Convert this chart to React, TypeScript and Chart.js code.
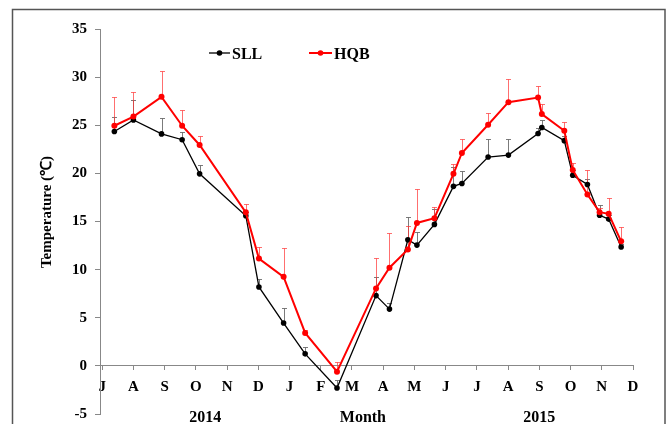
import React, { useEffect, useRef } from "react";
import { Chart, registerables } from "chart.js";

Chart.register(...registerables);

// Month tick labels (Jul 2014 .. Dec 2015)
const monthLabels = ["J", "A", "S", "O", "N", "D", "J", "F", "M", "A", "M", "J", "J", "A", "S", "O", "N", "D"];

// Sampling dates expressed as month index from 1 Jul 2014
const sampleMonths = [0.39, 1.0, 1.9, 2.56, 3.12, 4.6, 5.02, 5.81, 6.5, 7.52, 8.77, 9.2, 9.79, 10.08, 10.64, 11.25, 11.52, 12.36, 13.01, 13.96, 14.08, 14.8, 15.07, 15.54, 15.93, 16.22, 16.62];

const sllMean = [24.35, 25.55, 24.1, 23.5, 19.95, 15.6, 8.2, 4.45, 1.25, -2.3, 7.3, 5.9, 13.1, 12.55, 14.7, 18.65, 18.95, 21.7, 21.9, 24.15, 24.77, 23.4, 19.8, 18.85, 15.65, 15.25, 12.35];
const sllErr = [1.5, 2.1, 1.65, 0.75, 0.9, 0.4, 0.8, 1.6, 0.7, 0.85, 1.9, 0.65, 2.4, 1.35, 1.6, 2.0, 1.3, 1.9, 1.65, 0.6, 0.76, 0.5, 0.6, 0.6, 1.1, 0.4, 0.3];

const hqbMean = [24.95, 25.9, 27.95, 24.95, 22.95, 15.95, 11.15, 9.25, 3.42, -0.6, 8.05, 10.2, 12.1, 14.85, 15.35, 19.95, 22.12, 25.05, 27.4, 27.88, 26.16, 24.43, 20.36, 17.8, 15.97, 15.8, 12.94];
const hqbErr = [3.0, 2.55, 2.7, 1.6, 0.96, 0.86, 1.2, 3.0, 0.3, 0.96, 3.17, 3.56, 2.4, 3.55, 1.2, 1.0, 1.4, 1.2, 2.4, 1.2, 1.0, 0.86, 0.7, 2.5, 0.4, 1.66, 1.5];

// Labels under the month axis and where along the axis they are centred
const bottomTexts = ["2014", "Month", "2015"];
const bottomTextMonths = [3.3, 8.35, 14.0];

const seriesNames = ["SLL", "HQB"];
const yTitle = "Temperature (℃)";

const SERIF = "'Liberation Serif', 'Times New Roman', serif";

const errorBars = {
  id: "errorBars",
  beforeDatasetsDraw(chart: any) {
    const { ctx } = chart;
    const xs = chart.scales.x;
    const ys = chart.scales.y;
    ctx.save();
    ctx.lineWidth = 1;
    chart.data.datasets.forEach((ds: any) => {
      ctx.strokeStyle = ds.errColor;
      ds.data.forEach((p: any, i: number) => {
        const e = ds.errors[i];
        const px = Math.round(xs.getPixelForValue(p.x)) + 0.5;
        const py = ys.getPixelForValue(p.y);
        const pt = Math.round(ys.getPixelForValue(p.y + e)) + 0.5;
        ctx.beginPath();
        ctx.moveTo(px, py);
        ctx.lineTo(px, pt);
        ctx.moveTo(px - 2.5, pt);
        ctx.lineTo(px + 2.5, pt);
        ctx.stroke();
      });
    });
    ctx.restore();
  },
};

const decorations = {
  id: "decorations",
  afterDraw(chart: any) {
    const { ctx } = chart;
    const xs = chart.scales.x;
    ctx.save();
    // frame
    ctx.strokeStyle = "#555";
    ctx.lineWidth = 1.5;
    ctx.strokeRect(12.5, 9.5, 652.5, 430);

    // y title
    ctx.save();
    ctx.translate(47, 212);
    ctx.rotate(-Math.PI / 2);
    ctx.font = `bold 15px ${SERIF}`;
    ctx.fillStyle = "#000";
    ctx.textAlign = "center";
    ctx.textBaseline = "middle";
    ctx.fillText(yTitle, 0, 0);
    ctx.restore();

    // legend
    const items = [
      { name: seriesNames[0], color: "#000", x0: 209, x1: 230, w: 1.3 },
      { name: seriesNames[1], color: "#ff0000", x0: 309, x1: 332, w: 2 },
    ];
    ctx.font = `bold 16px ${SERIF}`;
    ctx.textAlign = "left";
    ctx.textBaseline = "alphabetic";
    items.forEach((it) => {
      ctx.strokeStyle = it.color;
      ctx.lineWidth = it.w;
      ctx.beginPath();
      ctx.moveTo(it.x0, 53);
      ctx.lineTo(it.x1, 53);
      ctx.stroke();
      ctx.fillStyle = it.color;
      ctx.beginPath();
      ctx.arc((it.x0 + it.x1) / 2, 53, 2.8, 0, Math.PI * 2);
      ctx.fill();
      ctx.fillStyle = "#000";
      ctx.fillText(it.name, it.x1 + 2, 59);
    });

    // year / month labels
    ctx.textAlign = "center";
    ctx.fillStyle = "#000";
    bottomTexts.forEach((t, i) => {
      ctx.fillText(t, xs.getPixelForValue(bottomTextMonths[i]), 422);
    });
    ctx.restore();
  },
};

export default function App() {
  const ref = useRef<HTMLCanvasElement>(null);
  useEffect(() => {
    const chart = new Chart(ref.current as HTMLCanvasElement, {
      type: "line",
      data: {
        datasets: [
          {
            label: seriesNames[0],
            data: sampleMonths.map((m, i) => ({ x: m, y: sllMean[i] })),
            borderColor: "#000",
            backgroundColor: "#000",
            borderWidth: 1.3,
            pointRadius: 2.8,
            pointBorderWidth: 0,
            pointBackgroundColor: "#000",
            order: 1,
            errors: sllErr,
            errColor: "rgba(100,100,100,0.85)",
          } as any,
          {
            label: seriesNames[1],
            data: sampleMonths.map((m, i) => ({ x: m, y: hqbMean[i] })),
            borderColor: "#ff0000",
            backgroundColor: "#ff0000",
            borderWidth: 2,
            pointRadius: 3,
            pointBorderWidth: 0,
            pointBackgroundColor: "#ff0000",
            order: 0,
            errors: hqbErr,
            errColor: "rgba(255,50,50,0.7)",
          } as any,
        ],
      },
      options: {
        animation: false,
        responsive: false,
        layout: { padding: { top: 29, right: 34, bottom: 10, left: 0 } },
        plugins: { legend: { display: false }, tooltip: { enabled: false } },
        scales: {
          x: {
            type: "linear",
            position: { y: 0 } as any,
            min: -0.07,
            max: 17,
            afterBuildTicks: (s: any) => {
              s.ticks = monthLabels.map((_, i) => ({ value: i }));
            },
            ticks: {
              autoSkip: false,
              maxRotation: 0,
              color: "#000",
              padding: 8,
              font: { family: SERIF, size: 15, weight: "bold" },
              callback: (v: any) => monthLabels[Math.round(Number(v))] ?? "",
            },
            grid: { drawOnChartArea: false, tickLength: 4, color: "#888" },
            border: { color: "#888", width: 1 },
          },
          y: {
            min: -5,
            max: 35,
            ticks: {
              stepSize: 5,
              color: "#000",
              padding: 8,
              font: { family: SERIF, size: 15, weight: "bold" },
            },
            grid: { drawOnChartArea: false, tickLength: 5, color: "#888" },
            border: { color: "#888", width: 1 },
            afterFit: (s: any) => {
              s.width = 100;
              s.paddingTop = 0;
              s.paddingBottom = 0;
            },
          },
        },
      },
      plugins: [errorBars, decorations],
    });
    return () => chart.destroy();
  }, []);
  return (
    <div style={{ position: "absolute", left: 0, top: 0, width: 667, height: 424, background: "#fff" }}>
      <canvas ref={ref} width={667} height={424} />
    </div>
  );
}
